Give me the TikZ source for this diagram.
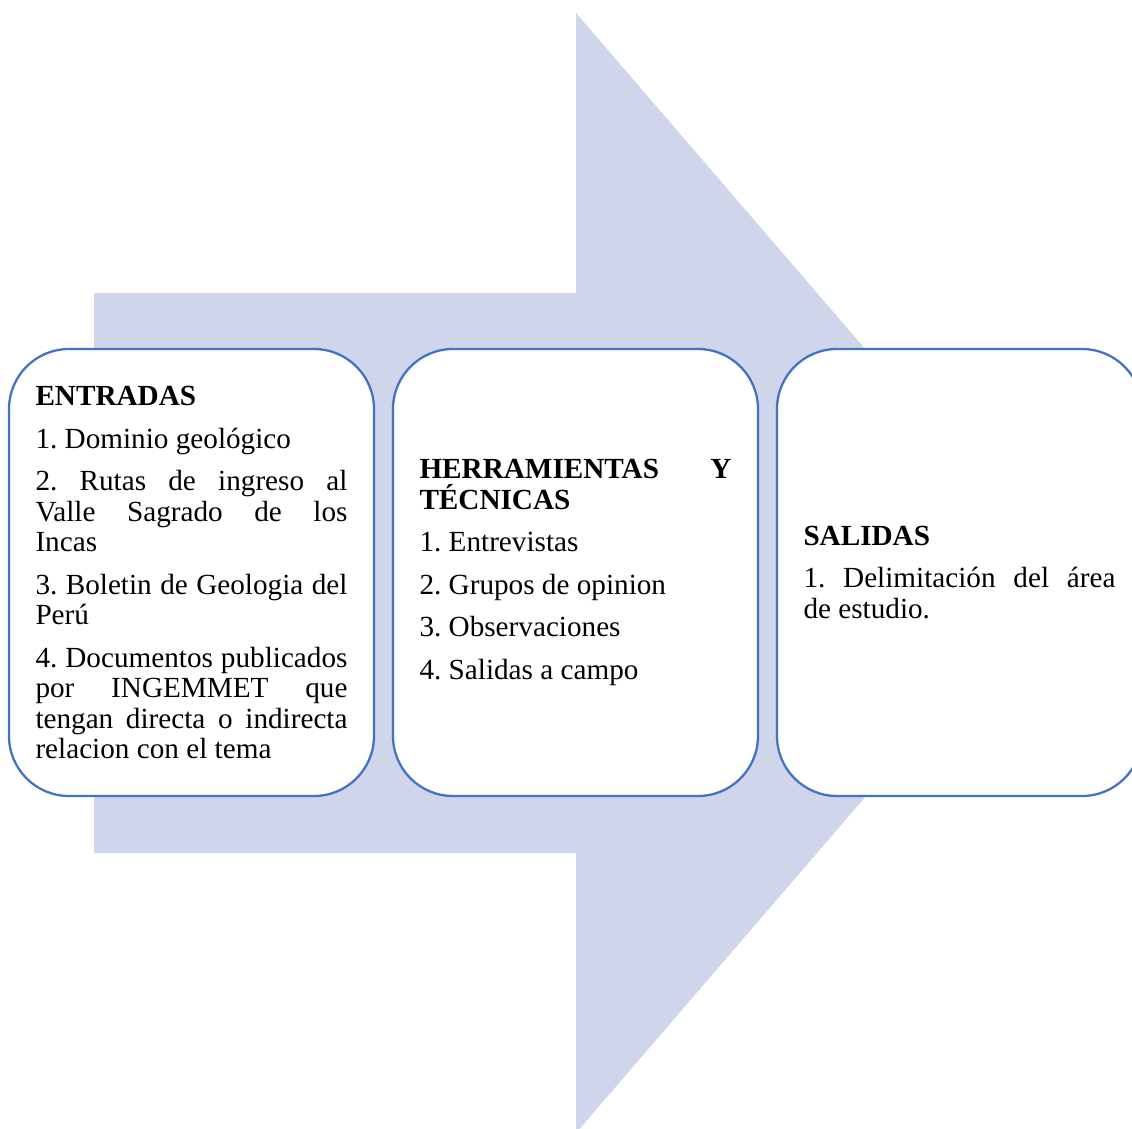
\documentclass[tikz,border=0pt]{standalone}
\usepackage{fontspec}
\setmainfont{Liberation Serif}
\definecolor{arrowfill}{HTML}{CFD5EA}
\definecolor{boxline}{HTML}{4472C4}
\newcommand\stagesetup{\parindent=0pt \parskip=12pt \frenchspacing
  \tolerance=10000 \hbadness=10000 \hyphenpenalty=10000 }
\begin{document}
\begin{tikzpicture}[x=1pt,y=1pt,
  stage/.style={draw=boxline, line width=2.3pt, fill=white, rounded corners=60pt,
    minimum width=365pt, minimum height=447pt, text width=312pt,
    inner xsep=0pt, inner ysep=0pt, align=justify,
    font=\fontsize{29.2}{30.5}\selectfont}]
\useasboundingbox (0,0) rectangle (1132,1128);
\begin{scope}
\clip (0,0) rectangle (1132,1128);
% large background arrow
\fill[arrowfill] (94,835) -- (576,835) -- (576,1115) -- (1058,555)
  -- (576,-5) -- (576,275) -- (94,275) -- cycle;

% the three stages
\node[stage] (entradas) at (191.5,555.5) {\stagesetup
  \textbf{ENTRADAS}\par
  1. Dominio geológico\par
  2. Rutas de ingreso al\linebreak Valle Sagrado de los\linebreak Incas\par
  3. Boletin de Geologia del\linebreak Perú\par
  4. Documentos publicados\linebreak por INGEMMET que\linebreak tengan directa o indirecta\linebreak relacion con el tema};

\node[stage] (herramientas) at (575.5,555.5) {\stagesetup
  \textbf{HERRAMIENTAS Y\linebreak TÉCNICAS}\par
  1. Entrevistas\par
  2. Grupos de opinion\par
  3. Observaciones\par
  4. Salidas a campo};

\node[stage] (salidas) at (959.5,555.5) {\stagesetup
  \textbf{SALIDAS}\par
  1. Delimitación del área\linebreak de estudio.};
\end{scope}
\end{tikzpicture}
\end{document}
